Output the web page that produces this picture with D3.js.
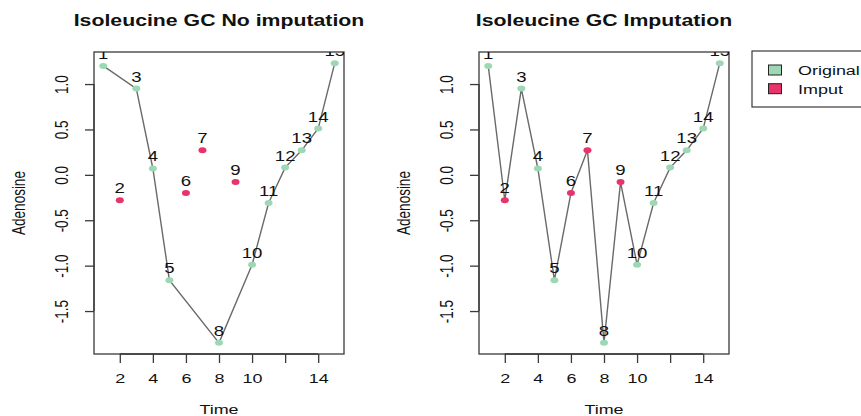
<!DOCTYPE html>
<html>
<head>
<meta charset="utf-8">
<script src="https://cdn.jsdelivr.net/npm/d3@7"></script>
<style>
  html, body { margin: 0; padding: 0; background: #fff; }
  svg { display: block; font-family: "Liberation Sans", Arial, Helvetica, sans-serif; }
</style>
</head>
<body>
<div id="chart"></div>
<script>
// ----------------------------
// Data
// ----------------------------
const timePoints = [1, 2, 3, 4, 5, 6, 7, 8, 9, 10, 11, 12, 13, 14, 15];
const originalValues = [1.20, null, 0.95, 0.07, -1.16, null, null, -1.85, null, -0.99, -0.31, 0.08, 0.27, 0.51, 1.23];
const imputedValues = [null, -0.28, null, null, null, -0.20, 0.27, null, -0.08, null, null, null, null, null, null];
const xTicks = [2, 4, 6, 8, 10, 12, 14];
const xTickLabels = ['2', '4', '6', '8', '10', '', '14'];
const yTicks = [-1.5, -1.0, -0.5, 0.0, 0.5, 1.0];
const legendLabels = ['Original', 'Imput'];
const panelTitles = ['Isoleucine GC No imputation', 'Isoleucine GC Imputation'];

(function () {
  'use strict';

  const W = 861, H = 416;
  const SX = 1.33;              // the picture is stretched sideways
  const GREEN = '#9dd8b5';
  const PINK = '#e8336b';
  const INK = '#111';
  const AXIS = '#3a3a3a';

  const svg = d3.select('#chart')
    .append('svg')
    .attr('width', W)
    .attr('height', H);

  const top = 52, bottom = 354;

  const y = d3.scaleLinear().domain([-1.973, 1.353]).range([bottom, top]);

  const rows = timePoints.map((t, i) => ({
    t,
    orig: originalValues[i],
    imp: imputedValues[i],
    v: originalValues[i] != null ? originalValues[i] : imputedValues[i],
    isImp: originalValues[i] == null
  }));

  function stretchText(sel, extra) {
    sel.attr('transform', function () {
      const x = +d3.select(this).attr('data-x') || 0;
      const yy = +d3.select(this).attr('data-y') || 0;
      return `translate(${x},${yy}) scale(${SX},1)` + (extra || '');
    });
  }

  // ----------------------------
  // One panel
  // ----------------------------
  function drawPanel(idx, x0, x1, connectAll) {
    const x = d3.scaleLinear().domain([0.44, 15.56]).range([x0, x1]);
    const g = svg.append('g');
    const clipId = 'clip' + idx;

    g.append('clipPath').attr('id', clipId)
      .append('rect')
      .attr('x', x0).attr('y', top)
      .attr('width', x1 - x0).attr('height', bottom - top);

    // title
    g.append('text')
      .attr('data-x', (x0 + x1) / 2).attr('data-y', 26)
      .attr('text-anchor', 'middle')
      .attr('font-size', 16)
      .attr('font-weight', 'bold')
      .attr('fill', INK)
      .text(panelTitles[idx])
      .call(stretchText);

    // x axis
    const xAxis = g.append('g')
      .attr('transform', `translate(0,${bottom})`)
      .call(d3.axisBottom(x).tickValues(xTicks).tickSize(9)
        .tickFormat((d, i) => xTickLabels[i]));
    xAxis.select('.domain').attr('stroke', AXIS).attr('stroke-width', 1.3)
      .attr('d', `M${x(xTicks[0])},0H${x(xTicks[xTicks.length - 1])}`);
    xAxis.selectAll('.tick line').attr('stroke', AXIS).attr('stroke-width', 1.3);
    xAxis.selectAll('.tick text')
      .attr('y', null).attr('dy', null)
      .attr('data-y', 29)
      .attr('font-size', 13.5)
      .attr('fill', INK)
      .call(stretchText);

    // y axis
    const yAxis = g.append('g')
      .attr('transform', `translate(${x0},0)`)
      .call(d3.axisLeft(y).tickValues(yTicks).tickSize(9)
        .tickFormat(d => d.toFixed(1)));
    yAxis.select('.domain').attr('stroke', AXIS).attr('stroke-width', 1.3)
      .attr('d', `M0,${y(yTicks[0])}V${y(yTicks[yTicks.length - 1])}`);
    yAxis.selectAll('.tick line').attr('stroke', AXIS).attr('stroke-width', 1.3);
    yAxis.selectAll('.tick text')
      .attr('x', null).attr('dy', null)
      .attr('data-x', -26)
      .attr('text-anchor', 'middle')
      .attr('font-size', 13.5)
      .attr('fill', INK)
      .call(stretchText, ' rotate(-90)');

    // axis titles
    g.append('text')
      .attr('data-x', (x0 + x1) / 2).attr('data-y', 414)
      .attr('text-anchor', 'middle')
      .attr('font-size', 13.5)
      .attr('fill', INK)
      .text('Time')
      .call(stretchText);

    g.append('text')
      .attr('data-x', x0 - 69).attr('data-y', (top + bottom) / 2)
      .attr('text-anchor', 'middle')
      .attr('font-size', 13.5)
      .attr('fill', INK)
      .text('Adenosine')
      .call(stretchText, ' rotate(-90)');

    // plot box
    g.append('rect')
      .attr('x', x0).attr('y', top)
      .attr('width', x1 - x0).attr('height', bottom - top)
      .attr('fill', 'none')
      .attr('stroke', AXIS)
      .attr('stroke-width', 1.3);

    // line
    const lineData = connectAll ? rows : rows.filter(d => d.orig != null);
    g.append('path')
      .datum(lineData)
      .attr('fill', 'none')
      .attr('stroke', '#6a6a6a')
      .attr('stroke-width', 1.4)
      .attr('d', d3.line().x(d => x(d.t)).y(d => y(d.v)));

    // points
    g.append('g')
      .selectAll('ellipse')
      .data(rows)
      .enter()
      .append('ellipse')
      .attr('cx', d => x(d.t))
      .attr('cy', d => y(d.v))
      .attr('rx', 4)
      .attr('ry', 3)
      .attr('fill', d => d.isImp ? PINK : GREEN);

    // point labels (clipped to the plot region)
    g.append('g')
      .attr('clip-path', `url(#${clipId})`)
      .selectAll('text')
      .data(rows)
      .enter()
      .append('text')
      .attr('data-x', d => x(d.t))
      .attr('data-y', d => y(d.v) - 7)
      .attr('text-anchor', 'middle')
      .attr('font-size', 14)
      .attr('fill', INK)
      .text(d => d.t)
      .call(stretchText);
  }

  drawPanel(0, 94, 344, false);
  drawPanel(1, 479, 729, true);

  // ----------------------------
  // Legend
  // ----------------------------
  const legend = svg.append('g');
  legend.append('rect')
    .attr('x', 752).attr('y', 51)
    .attr('width', 130).attr('height', 56)
    .attr('fill', '#fff')
    .attr('stroke', AXIS)
    .attr('stroke-width', 1.2);

  const legendColors = [GREEN, PINK];
  legendLabels.forEach((lab, i) => {
    const cy = 70 + i * 18.7;
    legend.append('rect')
      .attr('x', 768.5).attr('y', cy - 5)
      .attr('width', 13).attr('height', 10)
      .attr('fill', legendColors[i])
      .attr('stroke', '#222')
      .attr('stroke-width', 1);
    legend.append('text')
      .attr('data-x', 798).attr('data-y', cy + 4.8)
      .attr('font-size', 13.5)
      .attr('fill', INK)
      .text(lab)
      .call(stretchText);
  });
})();
</script>
</body>
</html>
